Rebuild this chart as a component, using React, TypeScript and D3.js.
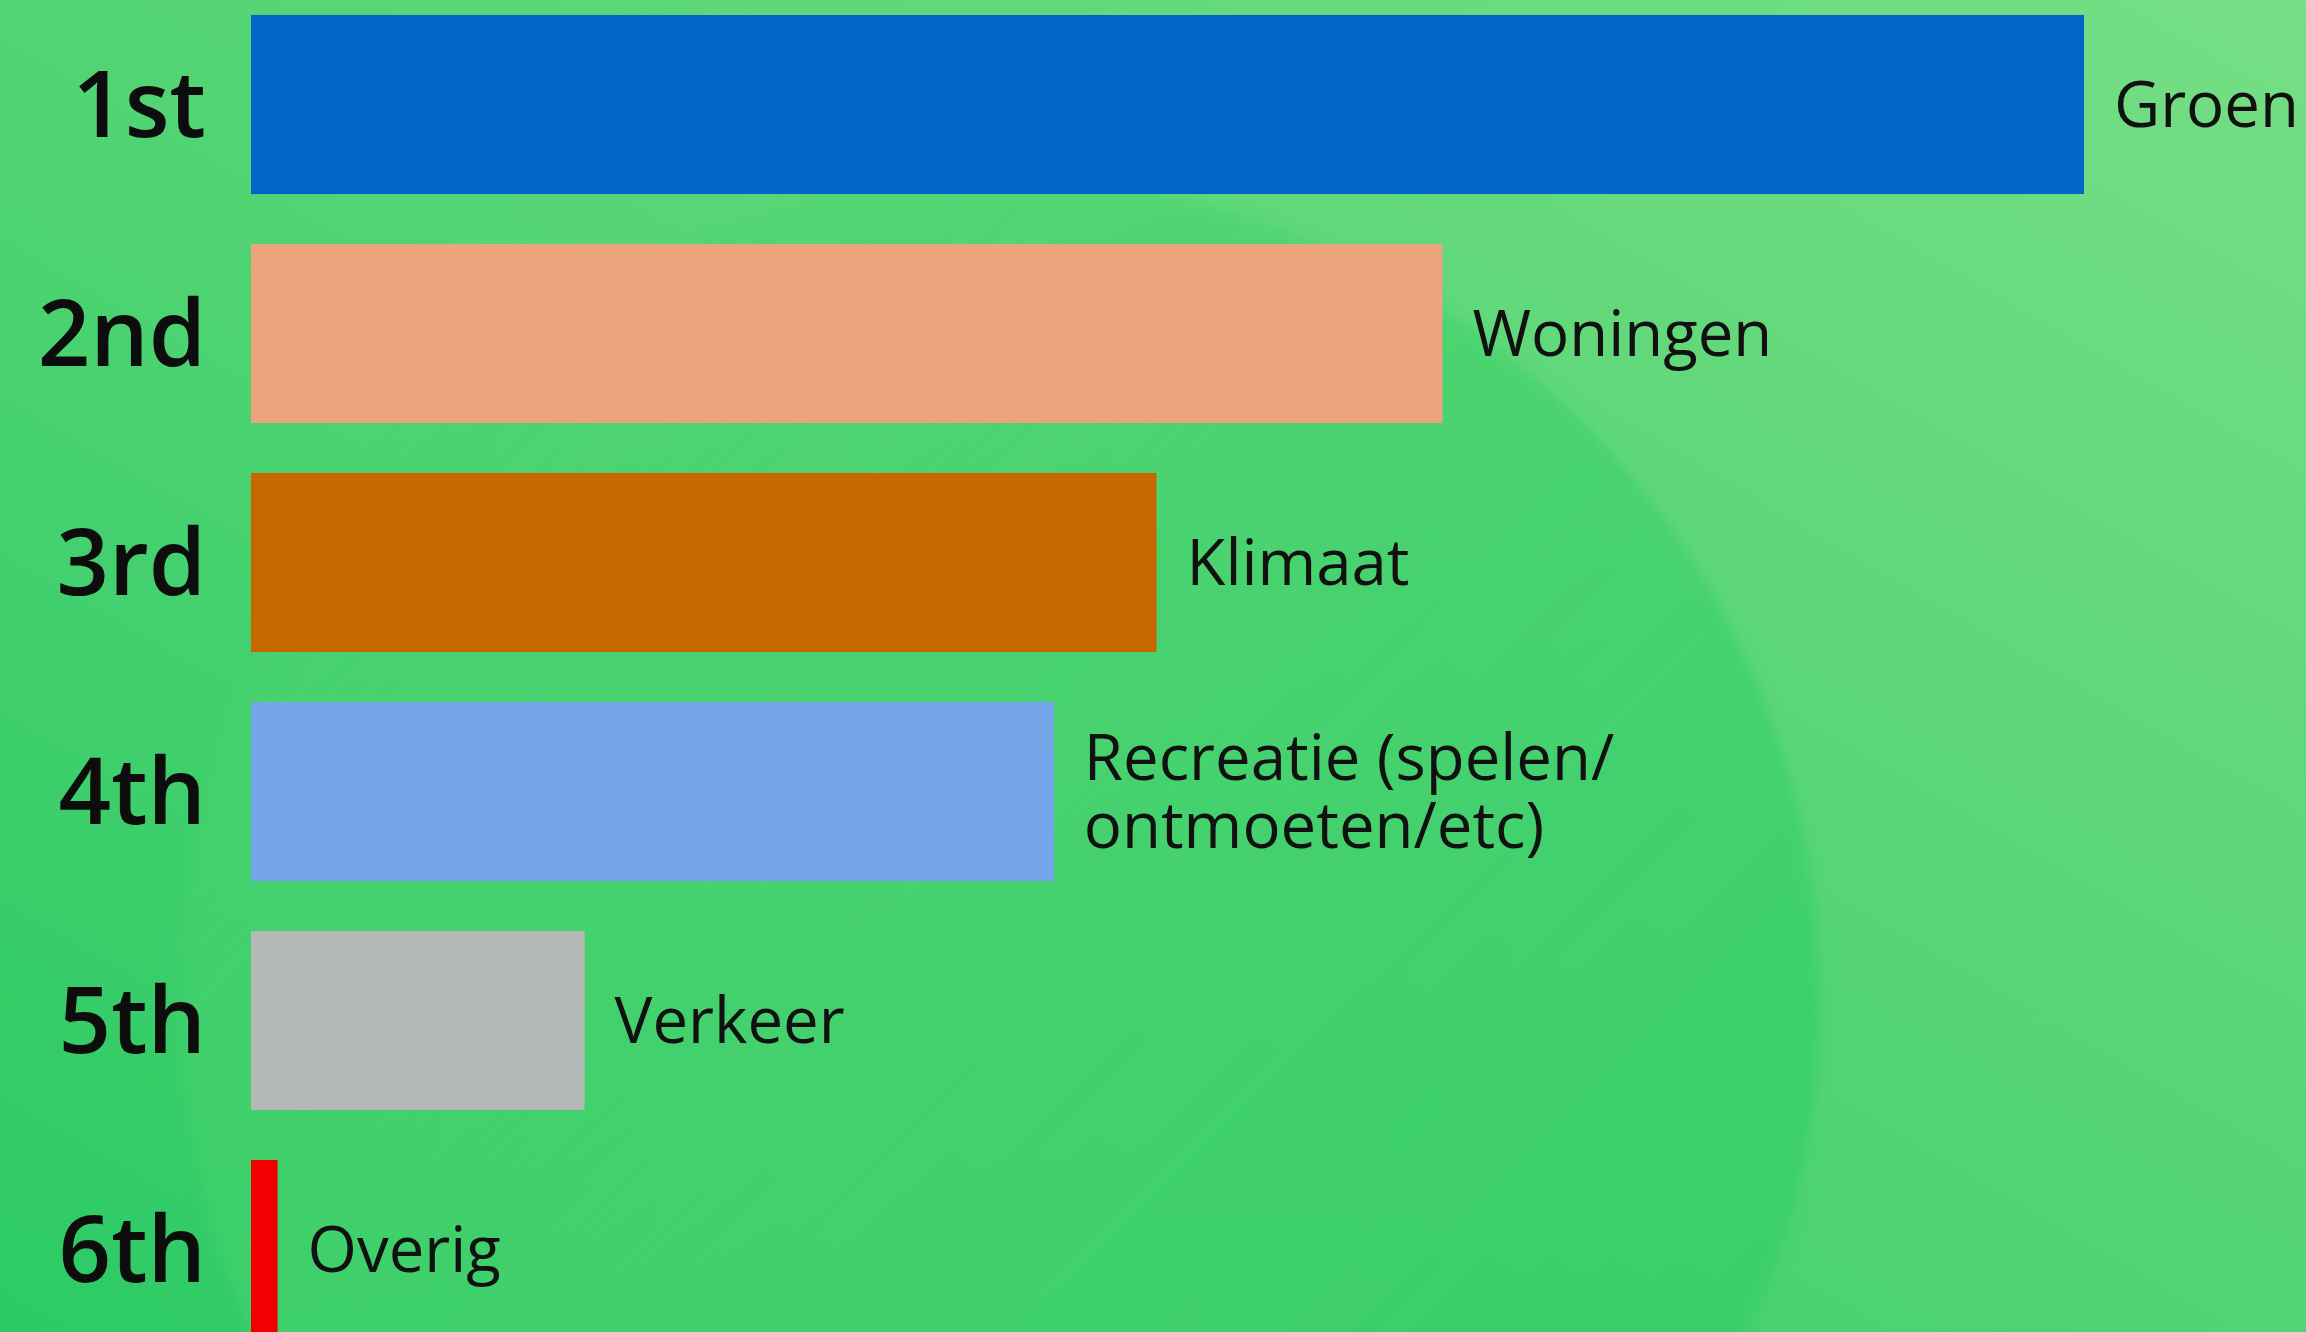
import React, { useEffect } from "react";
import * as d3 from "d3";

const ranks = ["1st", "2nd", "3rd", "4th", "5th", "6th"];
const categories = [
  ["Groen"],
  ["Woningen"],
  ["Klimaat"],
  ["Recreatie (spelen/", "ontmoeten/etc)"],
  ["Verkeer"],
  ["Overig"],
];
const values = [100, 65, 49.4, 43.8, 18.2, 1.45];
const colors = ["#0066c8", "#eca47c", "#c76700", "#77a5ea", "#b4b8b6", "#f00000"];

const W = 2306;
const H = 1332;

export default function App() {
  useEffect(() => {
    document.body.style.margin = "0";
  }, []);

  const x = d3.scaleLinear().domain([0, 100]).range([251, 2084]);
  const y = d3
    .scaleBand<string>()
    .domain(ranks)
    .range([-10, 1364])
    .paddingInner(0.218)
    .paddingOuter(0.109);

  const bh = y.bandwidth();
  const labelSize = 63.5;
  const cap = labelSize * 0.714;
  const rankSize = 92;
  const rankCap = rankSize * 0.714;

  return (
    <svg width={W} height={H} style={{ display: "block" }} fontFamily="'Open Sans', sans-serif">
      <defs>
        <linearGradient id="bg" x1="1" y1="0" x2="0" y2="1">
          <stop offset="0" stopColor="#76de84" />
          <stop offset="0.5" stopColor="#52d474" />
          <stop offset="1" stopColor="#2cca65" />
        </linearGradient>
        <linearGradient id="circ" x1="0" y1="0" x2="1" y2="1">
          <stop offset="0" stopColor="#4fd470" stopOpacity={0.2} />
          <stop offset="0.5" stopColor="#42d16d" stopOpacity={0.8} />
          <stop offset="1" stopColor="#33cd69" stopOpacity={0.9} />
        </linearGradient>
        <filter id="soft" x="-10%" y="-10%" width="120%" height="120%">
          <feGaussianBlur stdDeviation="7" />
        </filter>
      </defs>
      <rect x={0} y={0} width={W} height={H} fill="url(#bg)" />
      <circle cx={1000} cy={1000} r={820} fill="url(#circ)" filter="url(#soft)" />
      {ranks.map((r, i) => {
        const y0 = y(r) as number;
        const cy = y0 + bh / 2;
        const x1 = x(values[i]);
        const lines = categories[i];
        const lh = 68;
        const firstBase = cy + cap / 2 - ((lines.length - 1) * lh) / 2;
        return (
          <g key={r}>
            <rect x={x(0)} y={y0} width={x1 - x(0)} height={bh} fill={colors[i]} />
            <text
              x={206}
              y={cy + rankCap / 2}
              textAnchor="end"
              fontSize={rankSize}
              fontWeight={600}
              fill="#0d0d0d"
            >
              {r}
            </text>
            {lines.map((l, j) => (
              <text key={j} x={x1 + 30} y={firstBase + j * lh} fontSize={labelSize} fill="#111">
                {l}
              </text>
            ))}
          </g>
        );
      })}
    </svg>
  );
}
